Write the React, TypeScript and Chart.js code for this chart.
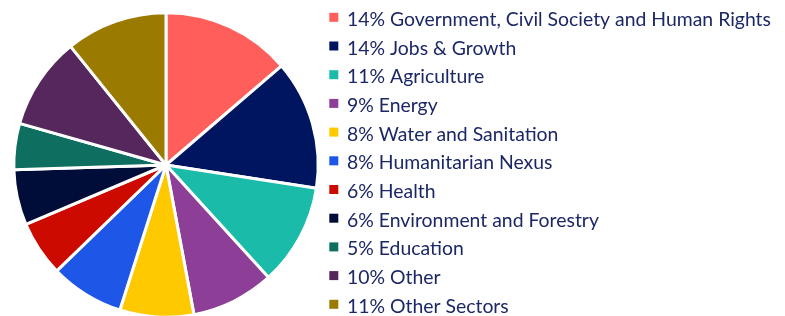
import React, { useEffect, useRef } from "react";
import { Chart, registerables } from "chart.js";

Chart.register(...registerables);

const categories = [
  "Government, Civil Society and Human Rights",
  "Jobs & Growth",
  "Agriculture",
  "Energy",
  "Water and Sanitation",
  "Humanitarian Nexus",
  "Health",
  "Environment and Forestry",
  "Education",
  "Other",
  "Other Sectors",
];
const shares = [14, 14, 11, 9, 8, 8, 6, 6, 5, 10, 11];
const colors = [
  "#FF5E5B",
  "#00155F",
  "#1ABCA9",
  "#8D3F98",
  "#FFC900",
  "#1E56E8",
  "#CC0A00",
  "#000D38",
  "#0E6F60",
  "#55275C",
  "#9B7A00",
];
const legendLabels = categories.map((c, i) => `${shares[i]}% ${c}`);

const LEGEND_FONT = "19.4px Lato";
const LEGEND_COLOR = "#1C2766";
const LEGEND_TOP = 17.3;
const LEGEND_ROW = 28.7;
const LEGEND_BOX = 9;

const sideLegend = {
  id: "sideLegend",
  afterDraw(chart: any) {
    const ctx = chart.ctx as CanvasRenderingContext2D;
    const labels = chart.data.labels as string[];
    const bg = chart.data.datasets[0].backgroundColor as string[];
    const x0 = chart.chartArea.right + 9.6;
    ctx.save();
    ctx.font = LEGEND_FONT;
    ctx.textBaseline = "alphabetic";
    ctx.textAlign = "left";
    labels.forEach((label, i) => {
      const yc = LEGEND_TOP + i * LEGEND_ROW;
      ctx.fillStyle = bg[i];
      ctx.fillRect(x0, yc - LEGEND_BOX / 2, LEGEND_BOX, LEGEND_BOX);
      ctx.fillStyle = LEGEND_COLOR;
      ctx.fillText(label, x0 + 17.7, yc + 8.5);
    });
    ctx.restore();
  },
};

export default function App() {
  const ref = useRef<HTMLCanvasElement | null>(null);
  useEffect(() => {
    if (!ref.current) return;
    const chart = new Chart(ref.current, {
      type: "pie",
      data: {
        labels: legendLabels,
        datasets: [
          {
            data: shares,
            backgroundColor: colors,
            borderColor: "#ffffff",
            borderWidth: 3,
          },
        ],
      },
      options: {
        responsive: false,
        animation: false,
        layout: { padding: { left: 12.3, top: 5, bottom: 5, right: 465.3 } },
        plugins: {
          tooltip: { enabled: false },
          legend: { display: false },
        },
      },
      plugins: [sideLegend],
    });
    return () => chart.destroy();
  }, []);
  return (
    <div style={{ position: "absolute", left: 0, top: 0, width: 785, height: 330 }}>
      <canvas ref={ref} width={785} height={330} />
    </div>
  );
}
